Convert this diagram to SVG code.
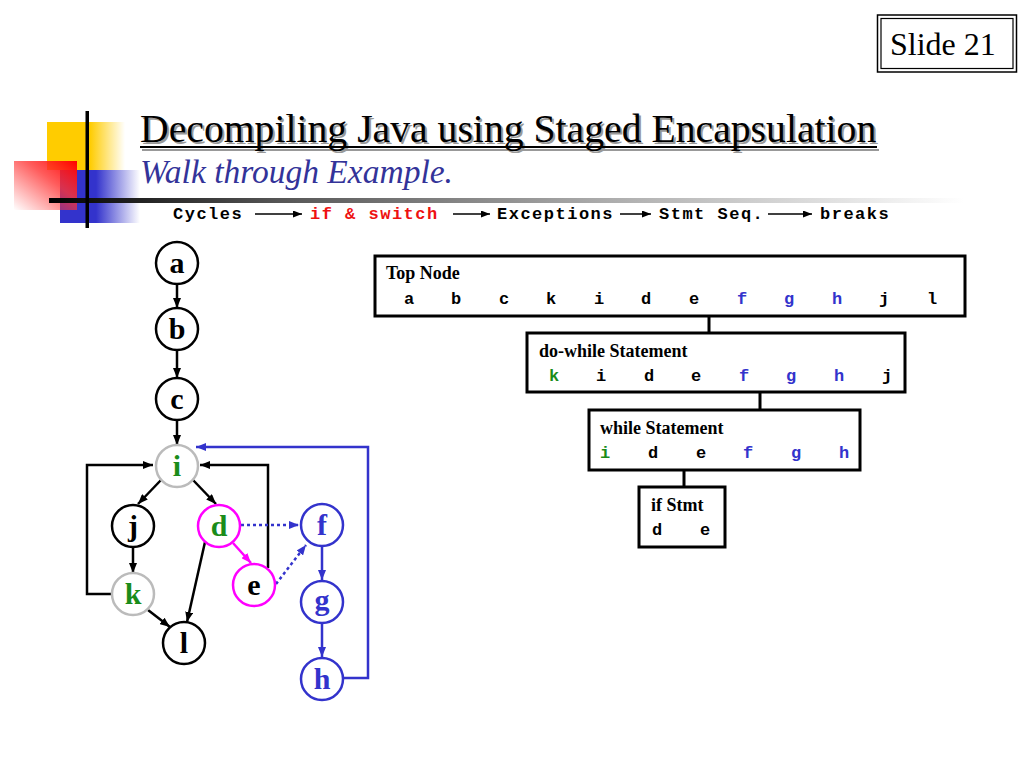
<svg xmlns="http://www.w3.org/2000/svg" width="1024" height="768" viewBox="0 0 1024 768">
<defs>
<style>
.node{fill:#fff;stroke:#000;stroke-width:2.5}
.lbl{font-family:"Liberation Serif",serif;font-weight:bold;font-size:30px;text-anchor:middle}
.edge{fill:none;stroke:#000;stroke-width:2.5}
.blue{stroke:#3333cc}
.mag{stroke:#ff00ff}
.dot{stroke-dasharray:3 3}
.box{fill:#fff;stroke:#000;stroke-width:3}
.bt{font-family:"Liberation Serif",serif;font-weight:bold;font-size:18px}
.serif{font-family:"Liberation Serif",serif}
.mono{font-family:"Liberation Mono",monospace;font-weight:bold;font-size:17px;text-anchor:middle}
.prog{font-family:"Liberation Mono",monospace;font-weight:bold;font-size:17px;letter-spacing:1.5px}
.g{fill:#1a8c1a}
.b{fill:#3333cc}
</style>
<marker id="ak" markerUnits="userSpaceOnUse" markerWidth="10" markerHeight="8" refX="10" refY="4" orient="auto"><path d="M0,0 L10,4 L0,8 z" fill="#000"/></marker>
<marker id="ab" markerUnits="userSpaceOnUse" markerWidth="10" markerHeight="8" refX="10" refY="4" orient="auto"><path d="M0,0 L10,4 L0,8 z" fill="#3333cc"/></marker>
<marker id="am" markerUnits="userSpaceOnUse" markerWidth="10" markerHeight="8" refX="10" refY="4" orient="auto"><path d="M0,0 L10,4 L0,8 z" fill="#ff00ff"/></marker>
<marker id="ap" markerUnits="userSpaceOnUse" markerWidth="9" markerHeight="7" refX="9" refY="3.5" orient="auto"><path d="M0,0 L9,3.5 L0,7 z" fill="#000"/></marker>
<linearGradient id="gy" x1="0" y1="0" x2="1" y2="0"><stop offset="0" stop-color="#ffcc00"/><stop offset="0.55" stop-color="#ffcc00"/><stop offset="1" stop-color="#ffcc00" stop-opacity="0"/></linearGradient>
<linearGradient id="gb" x1="0" y1="0" x2="1" y2="0"><stop offset="0" stop-color="#3333cc"/><stop offset="0.45" stop-color="#3333cc"/><stop offset="1" stop-color="#3333cc" stop-opacity="0"/></linearGradient>
<linearGradient id="gr" x1="0" y1="1" x2="1" y2="0"><stop offset="0" stop-color="#ff3333" stop-opacity="0"/><stop offset="0.6" stop-color="#ff3333" stop-opacity="0.8"/><stop offset="1" stop-color="#ff0000"/></linearGradient>
<linearGradient id="gl" x1="0" y1="0" x2="1" y2="0"><stop offset="0" stop-color="#000"/><stop offset="0.25" stop-color="#555"/><stop offset="0.6" stop-color="#aaa"/><stop offset="1" stop-color="#fff"/></linearGradient>
</defs>
<rect width="1024" height="768" fill="#fff"/>

<g id="decor">
<rect x="47" y="122" width="78" height="48" fill="url(#gy)"/>
<rect x="60" y="170" width="80" height="53" fill="url(#gb)"/>
<rect x="14" y="161" width="63" height="49" fill="url(#gr)"/>
<rect x="49" y="198" width="915" height="5" fill="url(#gl)"/>
<rect x="85.5" y="111" width="3.5" height="117" fill="#000"/>
</g>

<g id="slide-number">
<rect x="877.5" y="15" width="139" height="57" fill="#fff" stroke="#000" stroke-width="1.5"/>
<rect x="881" y="18.5" width="132" height="50" fill="none" stroke="#000" stroke-width="1.2"/>
<text x="890" y="55" class="serif" font-size="32">Slide 21</text>
</g>

<g id="title">
<text x="142" y="144" class="serif" font-size="39.7" fill="#999">Decompiling Java using Staged Encapsulation</text>
<rect x="142" y="149" width="737" height="2" fill="#999"/>
<text x="140" y="142" class="serif" font-size="39.7" fill="#000">Decompiling Java using Staged Encapsulation</text>
<rect x="140" y="146" width="737" height="2" fill="#000"/>
<text x="140" y="183" class="serif" font-style="italic" font-size="33.5" fill="#333399">Walk through Example.</text>
</g>

<g id="progression">
<text x="173" y="219" class="prog">Cycles</text>
<line x1="255" y1="214" x2="302" y2="214" stroke="#000" stroke-width="1.5" marker-end="url(#ap)"/>
<text x="310" y="219" class="prog" fill="#ee1111">if &amp; switch</text>
<line x1="453" y1="214" x2="490" y2="214" stroke="#000" stroke-width="1.5" marker-end="url(#ap)"/>
<text x="497" y="219" class="prog">Exceptions</text>
<line x1="620" y1="214" x2="651" y2="214" stroke="#000" stroke-width="1.5" marker-end="url(#ap)"/>
<text x="659" y="219" class="prog">Stmt Seq.</text>
<line x1="768" y1="214" x2="812" y2="214" stroke="#000" stroke-width="1.5" marker-end="url(#ap)"/>
<text x="820" y="219" class="prog">breaks</text>
</g>

<g id="connectors">
<line class="edge" x1="177" y1="284" x2="177" y2="308" marker-end="url(#ak)"/>
<line class="edge" x1="177" y1="350" x2="177" y2="378" marker-end="url(#ak)"/>
<line class="edge" x1="177" y1="420" x2="177" y2="445" marker-end="url(#ak)"/>
<line class="edge" x1="161" y1="480" x2="138" y2="504" marker-end="url(#ak)"/>
<line class="edge" x1="193" y1="480" x2="216" y2="504" marker-end="url(#ak)"/>
<line class="edge" x1="133" y1="547" x2="133" y2="573" marker-end="url(#ak)"/>
<line class="edge" x1="148" y1="610" x2="170" y2="627" marker-end="url(#ak)"/>
<line class="edge" x1="205" y1="542" x2="187" y2="622" marker-end="url(#ak)"/>
<path class="edge" d="M112 594 H87 V465 H153" marker-end="url(#ak)"/>
<path class="edge" d="M268 568 V465 H200" marker-end="url(#ak)"/>
<line class="edge mag" x1="233" y1="543" x2="251" y2="563" marker-end="url(#am)"/>
<line class="edge blue dot" x1="241" y1="525" x2="299" y2="525" marker-end="url(#ab)"/>
<line class="edge blue dot" x1="276" y1="584" x2="306" y2="545" marker-end="url(#ab)"/>
<line class="edge blue" x1="322" y1="547" x2="322" y2="580" marker-end="url(#ab)"/>
<line class="edge blue" x1="322" y1="624" x2="322" y2="657" marker-end="url(#ab)"/>
<path class="edge blue" d="M343 678 H368 V447 H196" marker-end="url(#ab)"/>
</g>

<g id="node-a"><circle class="node" cx="177" cy="263" r="21"/><text class="lbl" x="177" y="273">a</text></g>
<g id="node-b"><circle class="node" cx="177" cy="329" r="21"/><text class="lbl" x="177" y="339">b</text></g>
<g id="node-c"><circle class="node" cx="177" cy="399" r="21"/><text class="lbl" x="177" y="409">c</text></g>
<g id="node-i"><circle class="node" style="stroke:#bbbbbb" cx="177" cy="466" r="21"/><text class="lbl g" x="177" y="476">i</text></g>
<g id="node-j"><circle class="node" cx="133" cy="526" r="21"/><text class="lbl" x="133" y="536">j</text></g>
<g id="node-d"><circle class="node mag" cx="219" cy="526" r="21"/><text class="lbl g" x="219" y="536">d</text></g>
<g id="node-f"><circle class="node blue" cx="322" cy="525" r="21"/><text class="lbl b" x="322" y="535">f</text></g>
<g id="node-e"><circle class="node mag" cx="254" cy="585" r="21"/><text class="lbl" x="254" y="595">e</text></g>
<g id="node-k"><circle class="node" style="stroke:#bbbbbb" cx="133" cy="594" r="21"/><text class="lbl g" x="133" y="604">k</text></g>
<g id="node-g"><circle class="node blue" cx="322" cy="602" r="21"/><text class="lbl b" x="322" y="610">g</text></g>
<g id="node-l"><circle class="node" cx="184" cy="643" r="21"/><text class="lbl" x="184" y="653">l</text></g>
<g id="node-h"><circle class="node blue" cx="322" cy="679" r="21"/><text class="lbl b" x="322" y="689">h</text></g>

<g id="tree-connectors">
<line x1="709" y1="316" x2="709" y2="333" stroke="#000" stroke-width="3"/>
<line x1="760" y1="392" x2="760" y2="410" stroke="#000" stroke-width="3"/>
<line x1="684" y1="470" x2="684" y2="487" stroke="#000" stroke-width="3"/>
</g>

<g id="box-top">
<rect class="box" x="375" y="256" width="590" height="60"/>
<text class="bt" x="386" y="279">Top Node</text>
<text class="mono" y="304"><tspan x="409">a</tspan><tspan x="456">b</tspan><tspan x="504">c</tspan><tspan x="551">k</tspan><tspan x="599">i</tspan><tspan x="646">d</tspan><tspan x="694">e</tspan><tspan x="742" class="b">f</tspan><tspan x="789" class="b">g</tspan><tspan x="837" class="b">h</tspan><tspan x="884">j</tspan><tspan x="932">l</tspan></text>
</g>
<g id="box-dowhile">
<rect class="box" x="527" y="333" width="378" height="59"/>
<text class="bt" x="539" y="357">do-while Statement</text>
<text class="mono" y="381"><tspan x="554" class="g">k</tspan><tspan x="601">i</tspan><tspan x="649">d</tspan><tspan x="696">e</tspan><tspan x="744" class="b">f</tspan><tspan x="791" class="b">g</tspan><tspan x="839" class="b">h</tspan><tspan x="887">j</tspan></text>
</g>
<g id="box-while">
<rect class="box" x="589" y="410" width="271" height="60"/>
<text class="bt" x="600" y="434">while Statement</text>
<text class="mono" y="458"><tspan x="605" class="g">i</tspan><tspan x="653">d</tspan><tspan x="701">e</tspan><tspan x="748" class="b">f</tspan><tspan x="796" class="b">g</tspan><tspan x="844" class="b">h</tspan></text>
</g>
<g id="box-if">
<rect class="box" x="639" y="487" width="86" height="60"/>
<text class="bt" x="651" y="511">if Stmt</text>
<text class="mono" y="535"><tspan x="657">d</tspan><tspan x="705">e</tspan></text>
</g>
</svg>
